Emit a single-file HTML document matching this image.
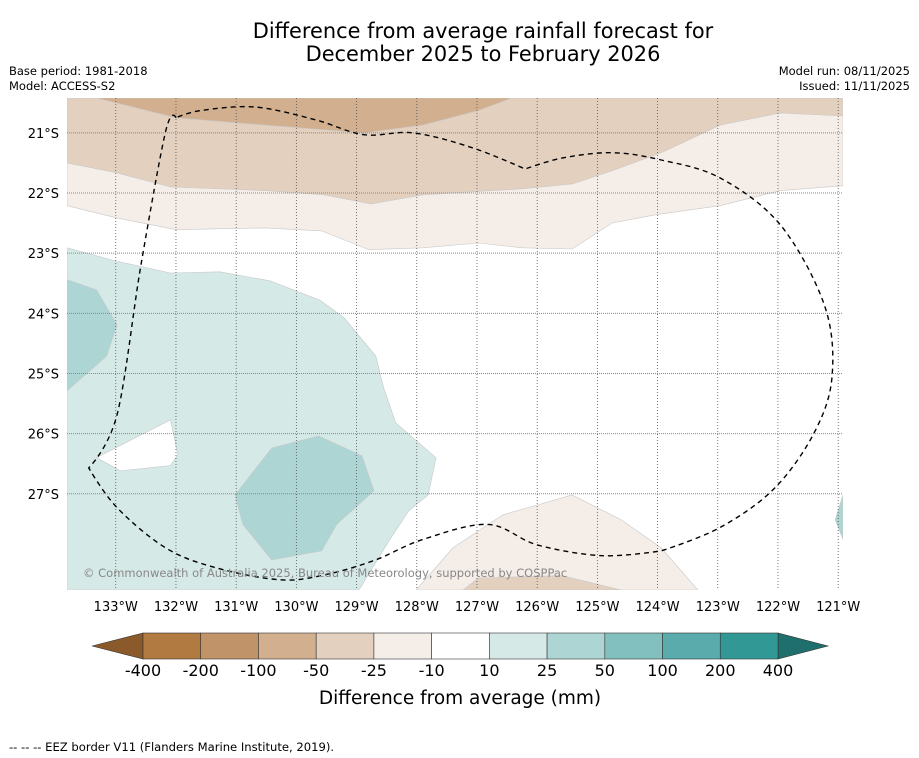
<!DOCTYPE html>
<html><head><meta charset="utf-8">
<style>
body{margin:0;background:#fff;width:919px;height:758px;overflow:hidden;font-family:"Liberation Sans","DejaVu Sans",sans-serif;}
svg{display:block}
</style></head>
<body>
<svg id="chart" width="919" height="758" viewBox="0 0 919 758" xmlns="http://www.w3.org/2000/svg">
<text x="483" y="38" text-anchor="middle" font-size="20.9" fill="#000" font-family="DejaVu Sans, sans-serif">Difference from average rainfall forecast for</text>
<text x="483" y="61" text-anchor="middle" font-size="20.9" fill="#000" font-family="DejaVu Sans, sans-serif">December 2025 to February 2026</text>
<text x="9" y="75" font-size="11.5" font-family="DejaVu Sans, sans-serif">Base period: 1981-2018</text>
<text x="9" y="90" font-size="11.5" font-family="DejaVu Sans, sans-serif">Model: ACCESS-S2</text>
<text x="910" y="75" text-anchor="end" font-size="11.5" font-family="DejaVu Sans, sans-serif">Model run: 08/11/2025</text>
<text x="910" y="90" text-anchor="end" font-size="11.5" font-family="DejaVu Sans, sans-serif">Issued: 11/11/2025</text>
<defs><clipPath id="mapclip"><rect x="67" y="98" width="776" height="492"/></clipPath></defs>
<g id="map" clip-path="url(#mapclip)"></g>
<g id="axes"></g>
<g id="cbar"></g>
<text x="460" y="704" text-anchor="middle" font-size="18.5" font-family="DejaVu Sans, sans-serif">Difference from average (mm)</text>
<text x="9" y="751" font-size="11.6" font-family="DejaVu Sans, sans-serif">--  --  -- EEZ border V11 (Flanders Marine Institute, 2019).</text>
</svg>
<script>
const lonTicks=[-133,-132,-131,-130,-129,-128,-127,-126,-125,-124,-123,-122,-121];
const latTicks=[-21,-22,-23,-24,-25,-26,-27];
const cbLabels=["-400","-200","-100","-50","-25","-10","10","25","50","100","200","400"];
const cbColors=["#b07a40","#c09468","#d2b08f","#e3d0bf","#f5ede8","#ffffff","#d5e9e7","#acd5d4","#82c0bf","#5aabab","#329896"];
const cbEndColors=["#8b5a2b","#1f6f6e"];
const LON0=-133.81,LON1=-120.92,LAT0=-20.42,LAT1=-28.60;
const band25=[[-133.81,-20.42],[-120.92,-20.42],[-120.92,-21.88],[-121.96,-21.96],[-122.96,-22.21],[-124.03,-22.36],[-124.76,-22.50],[-125.42,-22.93],[-126.25,-22.91],[-126.98,-22.83],[-127.90,-22.91],[-128.80,-22.94],[-129.58,-22.63],[-130.52,-22.58],[-132.00,-22.61],[-133.00,-22.41],[-133.81,-22.21]];
const band50=[[-133.81,-20.42],[-120.92,-20.42],[-120.92,-20.72],[-121.96,-20.67],[-122.96,-20.87],[-123.94,-21.33],[-124.76,-21.63],[-125.42,-21.85],[-126.25,-21.93],[-127.90,-22.03],[-128.76,-22.18],[-129.54,-22.03],[-130.52,-21.96],[-132.09,-21.90],[-133.00,-21.66],[-133.81,-21.50]];
const band100=[[-133.32,-20.42],[-126.42,-20.42],[-126.98,-20.63],[-127.90,-20.87],[-128.88,-21.00],[-131.02,-20.83],[-132.00,-20.75]];
const teal10=[[-133.81,-22.91],[-133.00,-23.13],[-132.09,-23.33],[-131.27,-23.31],[-130.44,-23.46],[-129.61,-23.78],[-129.21,-24.07],[-128.68,-24.71],[-128.55,-25.24],[-128.35,-25.82],[-127.68,-26.40],[-127.81,-27.02],[-128.13,-27.28],[-128.46,-27.78],[-128.96,-28.60],[-133.81,-28.60]];
const hole10=[[-133.32,-26.40],[-132.09,-25.77],[-131.97,-26.35],[-132.09,-26.53],[-132.92,-26.62]];
const teal25a=[[-133.81,-23.44],[-133.32,-23.61],[-132.98,-24.19],[-133.15,-24.71],[-133.81,-25.29]];
const teal25b=[[-130.41,-26.24],[-129.63,-26.04],[-128.91,-26.37],[-128.71,-26.95],[-129.33,-27.51],[-129.58,-27.95],[-130.41,-28.10],[-130.89,-27.51],[-131.02,-27.02]];
const teal25c=[[-120.92,-27.02],[-121.05,-27.43],[-120.92,-27.76]];
const brownBot25=[[-128.01,-28.60],[-127.40,-27.90],[-126.57,-27.35],[-125.42,-27.02],[-124.61,-27.43],[-123.94,-27.90],[-123.33,-28.60]];
const brownBot50=[[-127.23,-28.60],[-126.98,-28.40],[-125.59,-28.36],[-124.61,-28.60]];
const eez=[[-132.00,-20.75],[-132.17,-20.97],[-132.58,-23.19],[-132.98,-25.69],[-133.45,-26.57],[-132.98,-27.23],[-132.17,-27.90],[-131.34,-28.23],[-130.27,-28.43],[-129.54,-28.35],[-128.71,-28.11],[-127.90,-27.76],[-126.82,-27.51],[-126.00,-27.85],[-124.92,-28.03],[-123.94,-27.95],[-122.96,-27.56],[-122.05,-26.90],[-121.38,-25.95],[-121.10,-25.02],[-121.23,-23.86],[-121.96,-22.53],[-122.96,-21.75],[-123.94,-21.45],[-124.76,-21.33],[-125.59,-21.42],[-126.20,-21.60],[-127.07,-21.25],[-128.05,-21.00],[-128.88,-21.03],[-129.69,-20.78],[-130.69,-20.57],[-131.59,-20.63],[-132.00,-20.75]];
const X=lon=>67+(lon-LON0)/(LON1-LON0)*776;
const Y=lat=>98+(lat-LAT0)/(LAT1-LAT0)*492;
const NS='http://www.w3.org/2000/svg';
const map=document.getElementById('map'),axes=document.getElementById('axes'),cb=document.getElementById('cbar');
function mk(tag,attrs,parent){const e=document.createElementNS(NS,tag);for(const k in attrs)e.setAttribute(k,attrs[k]);parent.appendChild(e);return e;}
const pts=a=>a.map(p=>X(p[0]).toFixed(1)+','+Y(p[1]).toFixed(1)).join(' ');
function smooth(a){const P=a.map(p=>[X(p[0]),Y(p[1])]);let d='M'+P[0][0].toFixed(1)+','+P[0][1].toFixed(1);
const sharp=new Set([0,4,15,26,P.length-1]);
for(let i=0;i<P.length-1;i++){const p0=P[i-1]||P[i],p1=P[i],p2=P[i+1],p3=P[i+2]||P[i+1];
const t1=sharp.has(i)?0:1/6,t2=sharp.has(i+1)?0:1/6;
const c1=[p1[0]+(p2[0]-p0[0])*t1,p1[1]+(p2[1]-p0[1])*t1],c2=[p2[0]-(p3[0]-p1[0])*t2,p2[1]-(p3[1]-p1[1])*t2];
d+=` C${c1[0].toFixed(1)},${c1[1].toFixed(1)} ${c2[0].toFixed(1)},${c2[1].toFixed(1)} ${p2[0].toFixed(1)},${p2[1].toFixed(1)}`;}
return d;}
const bg=mk('rect',{x:67,y:98,width:776,height:492,fill:'#fff'},map);


const layers=[[band25,'#f5ede8','contour-minus10-25'],[band50,'#e3d0bf','contour-minus25-50'],[band100,'#d2b08f','contour-minus50-100'],[teal10,'#d5e9e7','contour-10-25'],[hole10,'#ffffff','contour-hole'],[teal25a,'#acd5d4','contour-25-50-west'],[teal25b,'#acd5d4','contour-25-50-south'],[teal25c,'#acd5d4','contour-25-50-east'],[brownBot25,'#f5ede8','contour-minus10-25-south'],[brownBot50,'#e3d0bf','contour-minus25-50-south']];
layers.forEach(l=>{const p=mk('polygon',{points:pts(l[0]),fill:l[1],stroke:'#c8c8c8','stroke-width':0.6},map);

});
lonTicks.forEach(v=>{const x=X(v);const g=mk('line',{x1:x,x2:x,y1:98,y2:590,stroke:'#555','stroke-width':0.8,'stroke-dasharray':'1,2'},map);


const t=mk('text',{x:x,y:611,'text-anchor':'middle','font-size':13,'font-family':'DejaVu Sans, sans-serif'},axes);t.textContent=(-v)+'°W';

});
latTicks.forEach(v=>{const y=Y(v);const g=mk('line',{x1:67,x2:843,y1:y,y2:y,stroke:'#888','stroke-width':1,'stroke-dasharray':'1,1'},map);


const t=mk('text',{x:59,y:y+5,'text-anchor':'end','font-size':13,'font-family':'DejaVu Sans, sans-serif'},axes);t.textContent=(-v)+'°S';

});
const e=mk('path',{d:smooth(eez),fill:'none',stroke:'#000','stroke-width':1.4,'stroke-dasharray':'5,4'},map);


const c=mk('text',{x:83,y:577,'font-size':11.5,fill:'#888','font-family':'DejaVu Sans, sans-serif'},map);c.textContent='© Commonwealth of Australia 2025, Bureau of Meteorology, supported by COSPPac';


const cx0=143,cx1=778,cy0=633,cy1=659,w=(cx1-cx0)/cbColors.length;
const lt=mk('polygon',{points:`${cx0},${cy0} ${cx0},${cy1} 92,646`,fill:cbEndColors[0],stroke:'#333','stroke-width':0.6},cb);


const rt=mk('polygon',{points:`${cx1},${cy0} ${cx1},${cy1} 828,646`,fill:cbEndColors[1],stroke:'#333','stroke-width':0.6},cb);


cbColors.forEach((col,i)=>{const r=mk('rect',{x:cx0+i*w,y:cy0,width:w,height:cy1-cy0,fill:col,stroke:'#333','stroke-width':0.6},cb);

});
cbLabels.forEach((s,i)=>{const t=mk('text',{x:cx0+i*w,y:676,'text-anchor':'middle','font-size':16,'font-family':'DejaVu Sans, sans-serif'},cb);t.textContent=s;

});
</script>
</body></html>
